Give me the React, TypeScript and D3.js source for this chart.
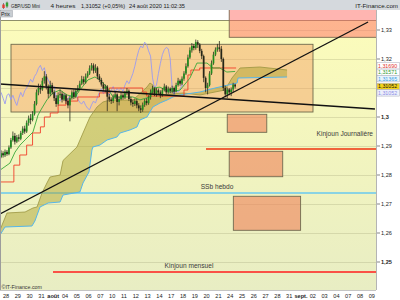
import React from "react";
import * as d3 from "d3";

// ---------- DATA ----------
// 4h bars, bar index 0 = 28 juil. 00:00 ; bars before 0 belong to 27 juil.
const FIRST_BAR = -3;
const FIRST_OPEN = 1.2862;
const CHIKOU_SHIFT = 26;

const closes = [
  1.2875, 1.2868, 1.2880,
  1.2872, 1.2895, 1.2920, 1.2935, 1.2915, 1.2930,
  1.2925, 1.2945, 1.2960, 1.2950, 1.2980, 1.2995,
  1.2990, 1.3010, 1.3045, 1.3085, 1.3100, 1.3095,
  1.3125, 1.3140, 1.3105, 1.3080, 1.3110, 1.3085,
  1.3065, 1.3045, 1.3075, 1.3080, 1.3060, 1.3075,
  1.3055, 1.3040, 1.3065, 1.3085, 1.3070, 1.3090,
  1.3100, 1.3115, 1.3130, 1.3120, 1.3140, 1.3150,
  1.3168, 1.3178, 1.3160, 1.3170, 1.3140, 1.3128,
  1.3112, 1.3098, 1.3105, 1.3070, 1.3060, 1.3055,
  1.3068, 1.3078, 1.3052, 1.3062, 1.3075, 1.3068,
  1.3082, 1.3090, 1.3062, 1.3050, 1.3045, 1.3055,
  1.3040, 1.3030, 1.3025, 1.3042, 1.3055, 1.3048,
  1.3068, 1.3085, 1.3098, 1.3080, 1.3092, 1.3085,
  1.3075, 1.3092, 1.3105, 1.3085, 1.3098, 1.3090,
  1.3100, 1.3088, 1.3110, 1.3125, 1.3115, 1.3132,
  1.3150, 1.3175, 1.3205, 1.3230, 1.3245, 1.3238,
  1.3258, 1.3250, 1.3228, 1.3210, 1.3135, 1.3100,
  1.3110, 1.3150, 1.3185, 1.3215, 1.3232, 1.3240,
  1.3235, 1.3200, 1.3100, 1.3078, 1.3095, 1.3085,
  1.3095, 1.3112, 1.31052,
];
const highs = [
  1.2885, 1.2882, 1.2888,
  1.2886, 1.2902, 1.2928, 1.2950, 1.2945, 1.2938,
  1.2940, 1.2952, 1.2968, 1.2970, 1.2988, 1.3005,
  1.3010, 1.3020, 1.3055, 1.3095, 1.3115, 1.3112,
  1.3135, 1.3158, 1.3148, 1.3112, 1.3125, 1.3118,
  1.3092, 1.3075, 1.3085, 1.3095, 1.3088, 1.3082,
  1.3080, 1.3065, 1.3072, 1.3092, 1.3095, 1.3098,
  1.3110, 1.3125, 1.3142, 1.3140, 1.3150, 1.3158,
  1.3178, 1.3186, 1.3185, 1.3182, 1.3175, 1.3148,
  1.3135, 1.3120, 1.3112, 1.3110, 1.3080, 1.3068,
  1.3078, 1.3090, 1.3082, 1.3070, 1.3085, 1.3082,
  1.3090, 1.3100, 1.3095, 1.3070, 1.3060, 1.3062,
  1.3062, 1.3048, 1.3040, 1.3050, 1.3062, 1.3065,
  1.3075, 1.3095, 1.3108, 1.3102, 1.3100, 1.3098,
  1.3092, 1.3100, 1.3115, 1.3110, 1.3105, 1.3102,
  1.3108, 1.3105, 1.3118, 1.3135, 1.3130, 1.3140,
  1.3158, 1.3185, 1.3215, 1.3240, 1.3255, 1.3252,
  1.3267, 1.3265, 1.3255, 1.3235, 1.3215, 1.3140,
  1.3118, 1.3158, 1.3195, 1.3225, 1.3240, 1.3252,
  1.3262, 1.3245, 1.3205, 1.3108, 1.3102, 1.3100,
  1.3102, 1.3118, 1.3115,
];
const lows = [
  1.2858, 1.2860, 1.2862,
  1.2866, 1.2868, 1.2890, 1.2915, 1.2905, 1.2910,
  1.2915, 1.2920, 1.2938, 1.2942, 1.2945, 1.2970,
  1.2975, 1.2985, 1.3005, 1.3040, 1.3075, 1.3080,
  1.3090, 1.3115, 1.3095, 1.3065, 1.3072, 1.3078,
  1.3055, 1.3035, 1.3040, 1.3065, 1.3050, 1.3055,
  1.3045, 1.3030, 1.2985, 1.3060, 1.3062, 1.3065,
  1.3085, 1.3095, 1.3110, 1.3112, 1.3115, 1.3135,
  1.3145, 1.3160, 1.3150, 1.3152, 1.3130, 1.3120,
  1.3105, 1.3088, 1.3085, 1.3020, 1.3052, 1.3045,
  1.3048, 1.3062, 1.3020, 1.3040, 1.3058, 1.3060,
  1.3062, 1.3075, 1.3055, 1.3040, 1.3035, 1.3038,
  1.3030, 1.3020, 1.3014, 1.3018, 1.3035, 1.3040,
  1.3042, 1.3060, 1.3080, 1.3072, 1.3070, 1.3078,
  1.3065, 1.3070, 1.3088, 1.3078, 1.3080, 1.3082,
  1.3082, 1.3078, 1.3085, 1.3105, 1.3108, 1.3110,
  1.3125, 1.3145, 1.3170, 1.3200, 1.3222, 1.3230,
  1.3232, 1.3238, 1.3220, 1.3200, 1.3120, 1.3085,
  1.3078, 1.3105, 1.3145, 1.3180, 1.3210, 1.3225,
  1.3225, 1.3190, 1.3090, 1.3068, 1.3065, 1.3075,
  1.3072, 1.3085, 1.3098,
];

// Ichimoku lines: [bar index, price]
const tenkan: number[][] = [
  [-3.5, 1.2817], [1.5, 1.2841], [4.1, 1.2879], [6.6, 1.2903], [9.2, 1.2921],
  [13.2, 1.2948], [15.8, 1.3007], [17.8, 1.3031], [20.3, 1.3059], [23.4, 1.3083],
  [27, 1.3093], [30.5, 1.3076], [34.6, 1.3069], [37.1, 1.3093], [41.2, 1.3128],
  [44.7, 1.3138], [47.3, 1.3128], [50.8, 1.3103], [53.9, 1.3069], [64, 1.3069],
  [67.6, 1.3059], [72.7, 1.3069], [74.2, 1.31], [77.8, 1.3103], [82.9, 1.3086],
  [88, 1.3093], [93, 1.3134], [96.6, 1.3186], [101.7, 1.3186], [104.7, 1.3169],
  [108.2, 1.3169], [111.8, 1.3155], [116, 1.31571],
];
const kijun: number[][] = [
  [-3.5, 1.2776], [3.5, 1.2834], [6.5, 1.2869], [10, 1.2903], [13, 1.2945],
  [17, 1.2966], [19, 1.3], [22, 1.3014], [26, 1.3041], [30, 1.3055], [36, 1.3069],
  [47, 1.3083], [52, 1.31], [69, 1.3086], [71, 1.3072], [90, 1.3093], [92, 1.3145],
  [93.5, 1.3162], [98, 1.3169], [116.5, 1.3169],
];
const senkouA: number[][] = [
  [-3.55, 1.26103], [0, 1.2669], [9.2, 1.26724], [13.2, 1.26862], [15.3, 1.26897],
  [17.8, 1.27379], [20.3, 1.27724], [21.9, 1.27931], [27, 1.28], [28.5, 1.285],
  [35.6, 1.28966], [38.65, 1.29448], [42.2, 1.3], [45.8, 1.30345], [48.8, 1.30517],
  [52.4, 1.30586], [64.1, 1.30586], [71.2, 1.31034], [72.7, 1.31172], [74.2, 1.31103],
  [77.8, 1.30759], [89.5, 1.30828], [98.1, 1.30759], [110.9, 1.30931], [114.4, 1.31345],
  [118.5, 1.3169], [128.6, 1.31724], [142.4, 1.31621],
];
const senkouB: number[][] = [
  [-3.55, 1.25931], [-1, 1.26207], [12.7, 1.26241], [14.2, 1.26414], [16.8, 1.26897],
  [20.9, 1.27034], [27, 1.27069], [28.5, 1.2731], [37.1, 1.27414], [38.65, 1.27724],
  [41.7, 1.28103], [43.2, 1.28862], [43.7, 1.28966], [47.3, 1.29034], [50.9, 1.29207],
  [55.9, 1.2931], [57.5, 1.29448], [62.5, 1.29552], [66.1, 1.29655], [67.6, 1.29897],
  [71.2, 1.3], [74.2, 1.30345], [77.8, 1.30483], [81.4, 1.30586], [84.4, 1.3069],
  [88, 1.30759], [98.1, 1.30862], [105.8, 1.31], [117, 1.31172], [117.5, 1.31345],
  [142.4, 1.31379],
];

// drawn objects: trend lines and zones [bar index, price]
const trendLines = [
  { k1: -3.55, p1: 1.31138, k2: 187.1, p2: 1.30276 },
  { k1: -3.55, p1: 1.26655, k2: 183.6, p2: 1.33276 },
];
const zones = [
  { k1: 2.04, k2: 155.6, p1: 1.32507, p2: 1.30172, kind: "big" },
  { k1: 113.0, k2: 195, p1: 1.345, p2: 1.32748, kind: "top" },
  { k1: 112.0, k2: 132.1, p1: 1.30093, p2: 1.29472, kind: "small" },
  { k1: 113.0, k2: 140.2, p1: 1.28817, p2: 1.27941, kind: "small" },
  { k1: 115.1, k2: 149.3, p1: 1.27266, p2: 1.26093, kind: "small" },
];
const levels = [
  { label: "Kinjoun Journalière", price: 1.28897, from: 101.2, color: "#f0643c", width: 1.8, lx: 373, anchor: "end", dy: -12.5 },
  { label: "SSb hebdo", price: 1.27379, from: -4, color: "#8ad3e3", width: 2, lx: 217, anchor: "middle", dy: -4.5 },
  { label: "Kinjoun mensuel", price: 1.24655, from: 23.4, color: "#ff1c1c", width: 1.5, lx: 189, anchor: "middle", dy: -4.5 },
];

const dayLabels = [
  "28", "29", "30", "31", "août", "04", "05", "06", "07", "10", "11", "12", "13", "14",
  "17", "18", "19", "20", "21", "24", "25", "26", "27", "28", "31", "sept.", "02", "03",
  "04", "07", "08", "09",
];
const boldDayLabels = ["août", "sept."];
const priceTicks = [1.33, 1.32, 1.3, 1.29, 1.28, 1.27, 1.26, 1.25];
const priceTickLabels = ["1,33", "1,32", "1,3", "1,29", "1,28", "1,27", "1,26", "1,25"];
const boldTicks = [1.3, 1.25];
const gridPrices = [1.33, 1.32, 1.31, 1.3, 1.29, 1.28, 1.27, 1.26, 1.25];

const valueLabels = [
  { value: 1.3169, text: "1,31690", color: "#e2312b", bg: "#ffffff", fixed: false },
  { value: 1.31571, text: "1,31571", color: "#2f9a2f", bg: "#ffffff", fixed: false },
  { value: 1.31365, text: "1,31365", color: "#35a0e6", bg: "#eaf4fc", fixed: false },
  { value: 1.31052, text: "1,31052", color: "#111111", bg: "#f3d21a", fixed: true },
  { value: 1.31052, text: "1,31052", color: "#8c8ce6", bg: "#eef0fb", fixed: false },
];

const headerParts = [
  { text: "GBP/USD Mini", x: 11, w: 29 },
  { text: "4 heures", x: 50.5, w: 25 },
  { text: "1,31052 (+0,05%)", x: 81, w: 44 },
  { text: "24 août 2020 11:02:35", x: 129, w: 56 },
];

const FONT = "'Liberation Sans', Arial, sans-serif";

export default function App() {
  const W = 400, H = 300;
  const PL = 0, PR = 376, PT = 10, PB = 290, BAND = 20;
  const x = d3.scaleLinear().domain([-0.5, 185.5]).range([6, 371.8]);
  const y = d3.scaleLinear().domain([1.33, 1.25]).range([30, 262]);

  const bars = closes.map((c, i) => {
    const o = i === 0 ? FIRST_OPEN : closes[i - 1];
    return { k: FIRST_BAR + i, o, c, h: Math.max(highs[i], o, c), l: Math.min(lows[i], o, c) };
  });
  const line = d3.line<number[]>().x((d) => x(d[0])).y((d) => y(d[1]));
  const step = d3.line<number[]>().x((d) => x(d[0])).y((d) => y(d[1])).curve(d3.curveStepAfter);
  const chikou = bars.filter((b) => b.k - CHIKOU_SHIFT >= FIRST_BAR).map((b) => [b.k - CHIKOU_SHIFT, b.c]);
  const cloudPath = line([...senkouA, ...[...senkouB].reverse()]) + "Z";

  // label de-overlap
  const ly = valueLabels.map((v) => y(v.value));
  const gap = 6.4;
  for (let it = 0; it < 30; it++) {
    for (let i = 1; i < ly.length; i++) {
      const d = ly[i] - ly[i - 1];
      if (d < gap) {
        const push = gap - d;
        const a = valueLabels[i - 1].fixed, b = valueLabels[i].fixed;
        if (a && !b) ly[i] += push;
        else if (b && !a) ly[i - 1] -= push;
        else { ly[i - 1] -= push / 2; ly[i] += push / 2; }
      }
    }
  }

  const zoneStyle: Record<string, { fill: string; stroke: string }> = {
    big: { fill: "rgba(242,150,88,0.42)", stroke: "#6f6a4c" },
    top: { fill: "rgba(255,108,100,0.5)", stroke: "#7a6a50" },
    small: { fill: "rgba(238,128,88,0.6)", stroke: "#706a50" },
  };

  return (
    <svg width={W} height={H} style={{ position: "absolute", left: 0, top: 0, display: "block" }} fontFamily={FONT}>
      <defs>
        <linearGradient id="bg" x1="0" y1="0" x2="0" y2="1">
          <stop offset="0" stopColor="#fcfcbb" />
          <stop offset="1" stopColor="#e8edc3" />
        </linearGradient>
        <clipPath id="plot">
          <rect x={PL} y={PT} width={PR - PL} height={PB - PT} />
        </clipPath>
      </defs>
      <rect x={0} y={0} width={W} height={H} fill="#ffffff" />

      {/* plot background */}
      <rect x={PL} y={PT} width={PR - PL} height={BAND - PT} fill="#ffffff" />
      <rect x={PL} y={BAND} width={PR - PL} height={PB - BAND} fill="url(#bg)" />

      <g clipPath="url(#plot)">
        {gridPrices.map((p) => (
          <line key={p} x1={PL} x2={PR} y1={Math.round(y(p)) + 0.5} y2={Math.round(y(p)) + 0.5} stroke="rgba(130,130,90,0.22)" strokeWidth={1} />
        ))}
        <line x1={PL} x2={PR} y1={BAND + 0.5} y2={BAND + 0.5} stroke="#8f8f6a" strokeWidth={1} />

        {zones.map((z, i) => {
          const x1 = x(z.k1), x2 = x(z.k2), y1 = y(z.p1), y2 = y(z.p2);
          const s = zoneStyle[z.kind];
          return (
            <rect key={i} x={x1} y={y1} width={x2 - x1} height={y2 - y1} fill={s.fill} stroke={s.stroke} strokeWidth={0.9} />
          );
        })}

        {levels.map((lv) => (
          <g key={lv.label}>
            <line x1={Math.max(PL, x(lv.from))} x2={PR} y1={y(lv.price)} y2={y(lv.price)} stroke={lv.color} strokeWidth={lv.width} />
            <text x={lv.lx} y={y(lv.price) + lv.dy} textAnchor={lv.anchor as any} fontSize={6.6} fill="#3a3a3a">
              {lv.label}
            </text>
          </g>
        ))}

        {/* cloud */}
        <path d={cloudPath} fill="rgba(168,158,40,0.45)" stroke="none" />
        <path d={line(senkouA) || ""} fill="none" stroke="#9a9440" strokeWidth={0.8} />
        <path d={line(senkouB) || ""} fill="none" stroke="#56b6ea" strokeWidth={1} />

        {/* chikou, tenkan, kijun */}
        <path d={line(chikou) || ""} fill="none" stroke="#9a9af0" strokeWidth={0.9} />
        <path d={step(kijun) || ""} fill="none" stroke="#f0402a" strokeWidth={0.9} />
        <path d={line(tenkan) || ""} fill="none" stroke="#3aa83a" strokeWidth={0.9} />

        {/* candles */}
        {bars.map((b) => {
          const cx = x(b.k);
          const up = b.c >= b.o;
          const top = y(Math.max(b.o, b.c));
          const bot = y(Math.min(b.o, b.c));
          return (
            <g key={b.k}>
              <line x1={cx} x2={cx} y1={y(b.h)} y2={y(b.l)} stroke="#2c2c20" strokeWidth={0.8} />
              <rect x={cx - 0.85} y={top} width={1.7} height={Math.max(0.8, bot - top)} fill={up ? "#1f8c1f" : "#262618"} />
            </g>
          );
        })}

        {trendLines.map((t, i) => (
          <line key={i} x1={x(t.k1)} y1={y(t.p1)} x2={x(t.k2)} y2={y(t.p2)} stroke="#111111" strokeWidth={1.3} />
        ))}
      </g>

      {/* borders */}
      <line x1={0.5} x2={0.5} y1={PT} y2={PB} stroke="#9c9c9c" />
      <line x1={PR + 0.5} x2={PR + 0.5} y1={PT} y2={PB} stroke="#b4b4b4" />
      <line x1={0} x2={PR} y1={PB + 0.5} y2={PB + 0.5} stroke="#c4c4c4" />

      {/* price axis */}
      {priceTicks.map((p, i) => (
        <g key={p}>
          <line x1={PR + 1} x2={PR + 4} y1={y(p)} y2={y(p)} stroke="#555" strokeWidth={0.7} />
          <text x={PR + 5} y={y(p) + 2} fontSize={5.6} fill="#222" fontWeight={boldTicks.includes(p) ? "bold" : "normal"}>
            {priceTickLabels[i]}
          </text>
        </g>
      ))}
      {valueLabels.map((v, i) => (
        <g key={i}>
          <rect x={PR + 1} y={ly[i] - 3.2} width={W - PR - 1.5} height={6.4} fill={v.bg} stroke="#a8aab8" strokeWidth={0.5} />
          <text x={PR + 2} y={ly[i] + 2} fontSize={5.3} fill={v.color}>
            {v.text}
          </text>
        </g>
      ))}

      {/* time axis */}
      {dayLabels.map((d, i) => (
        <text key={i} x={x(i * 6 - 0.5)} y={297.5} textAnchor="middle" fontSize={5.6} fill="#222" fontWeight={boldDayLabels.includes(d) ? "bold" : "normal"}>
          {d}
        </text>
      ))}
      <text x={1.5} y={288.5} fontSize={5.3} fill="#333">©IT-Finance.com</text>

      {/* header */}
      <rect x={0} y={0} width={W} height={PT} fill="#d5d9dd" />
      <line x1={3.5} x2={3.5} y1={3} y2={9} stroke="#444" strokeWidth={0.6} />
      <rect x={2.3} y={4.5} width={2.4} height={3.5} fill="#e03a30" />
      <line x1={7} x2={7} y1={1.5} y2={8} stroke="#444" strokeWidth={0.6} />
      <rect x={5.8} y={2.5} width={2.4} height={4} fill="#30a030" />
      {headerParts.map((h) => (
        <text key={h.text} x={h.x} y={7.7} fontSize={6.2} fill="#1a1a1a" textLength={h.w} lengthAdjust="spacingAndGlyphs">
          {h.text}
        </text>
      ))}
      <text x={398} y={7.7} fontSize={6.2} fill="#1a1a1a" textAnchor="end">IT-Finance.com</text>

      {/* Prix tag */}
      <rect x={0} y={10.5} width={12.5} height={6.5} fill="#c9cdd2" stroke="#9aa0a8" strokeWidth={0.5} />
      <text x={1} y={15.8} fontSize={5.2} fill="#222">Prix</text>
    </svg>
  );
}
